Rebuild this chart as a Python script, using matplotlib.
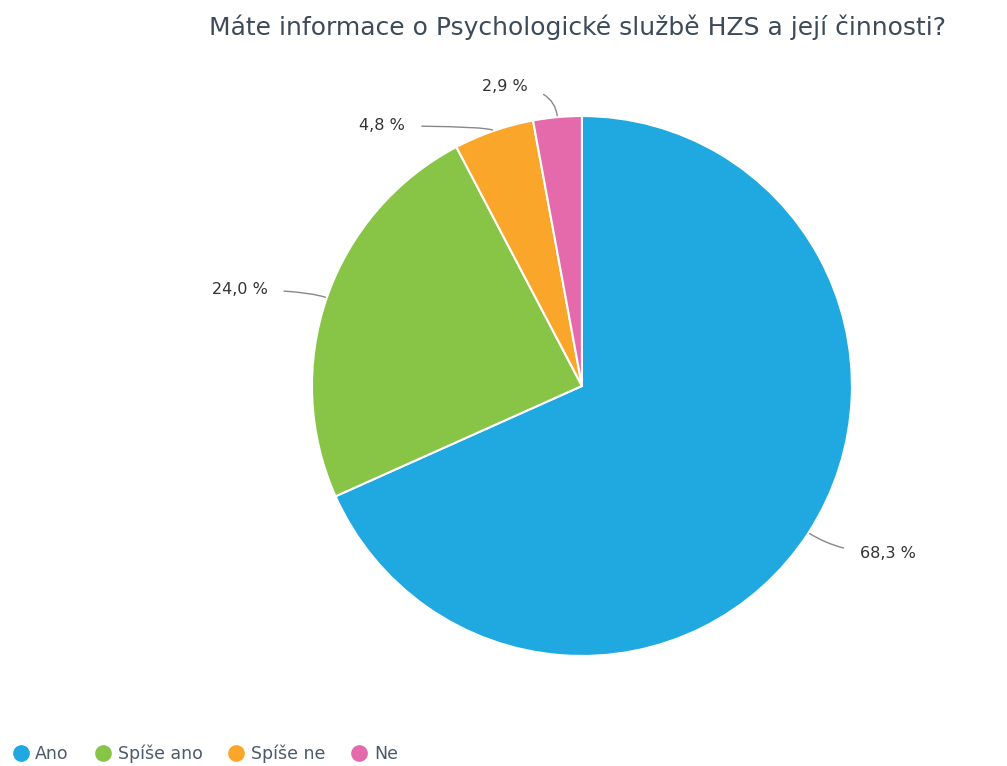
import numpy as np
import matplotlib
matplotlib.use("Agg")
import matplotlib.pyplot as plt
from matplotlib.lines import Line2D

plt.rcParams['font.family'] = ['DejaVu Sans']

title = "Máte informace o Psychologické službě HZS a její činnosti?"
categories = ["Ano", "Spíše ano", "Spíše ne", "Ne"]
values = [68.3, 24.0, 4.8, 2.9]
colors = ["#20a8e0", "#88c445", "#f9a62a", "#e46aab"]
value_labels = ["68,3 %", "24,0 %", "4,8 %", "2,9 %"]

# label text anchor positions in pie data units (radius = 1) and alignment
label_pos = [(1.03, -0.62), (-1.165, 0.356), (-0.655, 0.963), (-0.2, 1.11)]
label_ha = ["left", "right", "right", "right"]

fig = plt.figure(figsize=(10.07, 7.66), dpi=100)
fig.patch.set_facecolor("white")

ax = fig.add_axes([0.3098, 0.1436, 0.5362, 0.705])
wedges, _ = ax.pie(values, colors=colors, startangle=90, counterclock=False,
                   wedgeprops=dict(edgecolor="white", linewidth=1.5))
ax.set_xlim(-1, 1)
ax.set_ylim(-1, 1)
ax.set_aspect("equal")

for w, lab, pos, ha in zip(wedges, value_labels, label_pos, label_ha):
    ang = (w.theta1 + w.theta2) / 2.0
    a = np.deg2rad(ang)
    xy = (np.cos(a), np.sin(a))
    ax.annotate(lab, xy=xy, xytext=pos, ha=ha, va="center",
                fontsize=11.5, color="#333333", annotation_clip=False,
                arrowprops=dict(arrowstyle="-", color="#888888", lw=1.0,
                                shrinkA=10, shrinkB=1,
                                connectionstyle=f"angle3,angleA=0,angleB={ang}"))

fig.text(0.573, 0.965, title, ha="center", va="center", fontsize=18,
         color="#3d4a5a")

handles = [Line2D([0], [0], marker="o", linestyle="", markersize=11,
                  markerfacecolor=c, markeredgecolor=c) for c in colors]
fig.legend(handles, categories, loc="lower left", bbox_to_anchor=(0.004, -0.006),
           ncol=4, frameon=False, fontsize=12.5, handletextpad=0.35,
           columnspacing=1.45, handlelength=1.0, labelcolor="#4d5a6a",
           borderaxespad=0.05)

fig.savefig("out.png", dpi=100, facecolor="white")
